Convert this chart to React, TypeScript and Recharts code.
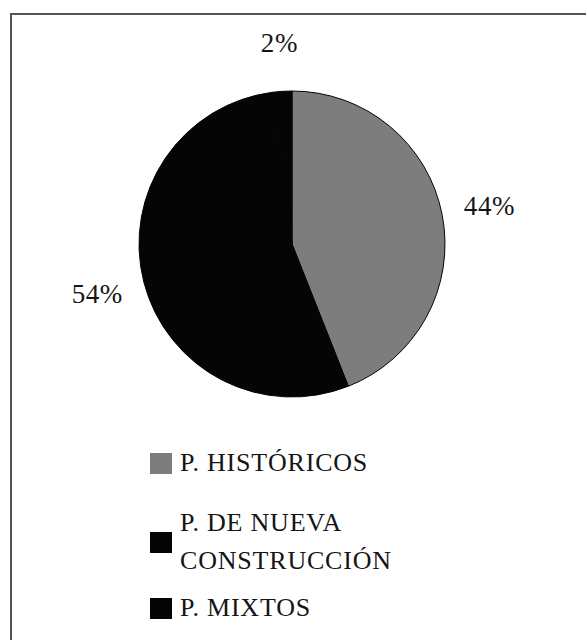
import { Cell, Legend, Pie, PieChart } from "recharts";

const categories = ["P. HISTÓRICOS", "P. DE NUEVA CONSTRUCCIÓN", "P. MIXTOS"];
const legendLines = [["P. HISTÓRICOS"], ["P. DE NUEVA", "CONSTRUCCIÓN"], ["P. MIXTOS"]];
const shares = [44, 54, 2];
const colors = ["#7d7d7d", "#050505", "#050505"];

const data = categories.map((name, i) => ({ name, value: shares[i] }));

const FONT = "'Liberation Serif', 'Times New Roman', Tinos";
const RAD = Math.PI / 180;

function renderLabel({ cx, cy, midAngle, outerRadius, value }: any) {
  const r = outerRadius + 48;
  const x = cx + r * Math.cos(-midAngle * RAD);
  const y = cy + r * Math.sin(-midAngle * RAD);
  return (
    <text
      x={x}
      y={y}
      textAnchor="middle"
      dominantBaseline="central"
      style={{ fontFamily: FONT, letterSpacing: 0.6 }}
      fontSize={27}
      fill="#151515"
    >
      {value}%
    </text>
  );
}

function LegendBox() {
  return (
    <div style={{ fontFamily: FONT, fontSize: 26, letterSpacing: 0.8, color: "#151515", lineHeight: "38px" }}>
      {legendLines.map((lines, i) => (
        <div key={i} style={{ display: "flex", alignItems: "center", marginTop: i === 0 ? 0 : i === 1 ? 22 : 9 }}>
          <span style={{ width: 22, height: 21, background: colors[i], marginRight: 8, flexShrink: 0 }} />
          <div>
            {lines.map((l) => (
              <div key={l}>{l}</div>
            ))}
          </div>
        </div>
      ))}
    </div>
  );
}

export default function App() {
  return (
    <div style={{ position: "absolute", left: 0, top: 0, width: 586, height: 640, background: "#fff", overflow: "hidden" }}>
      <div
        style={{
          position: "absolute",
          left: 10,
          top: 13,
          width: 700,
          height: 700,
          borderLeft: "2px solid #555",
          borderTop: "2px solid #555",
        }}
      />
      <PieChart width={586} height={640} margin={{ top: 0, right: 0, bottom: 0, left: 0 }} style={{ position: "absolute", left: 0, top: 0 }}>
        <Pie
          data={data}
          dataKey="value"
          nameKey="name"
          cx={292}
          cy={244}
          outerRadius={153}
          startAngle={90}
          endAngle={-270}
          stroke="#050505"
          strokeWidth={1}
          label={renderLabel}
          labelLine={false}
          isAnimationActive={false}
        >
          {data.map((d, i) => (
            <Cell key={d.name} fill={colors[i]} />
          ))}
        </Pie>
        <Legend content={<LegendBox />} wrapperStyle={{ position: "absolute", left: 150, top: 444, width: 340 }} />
      </PieChart>
    </div>
  );
}
